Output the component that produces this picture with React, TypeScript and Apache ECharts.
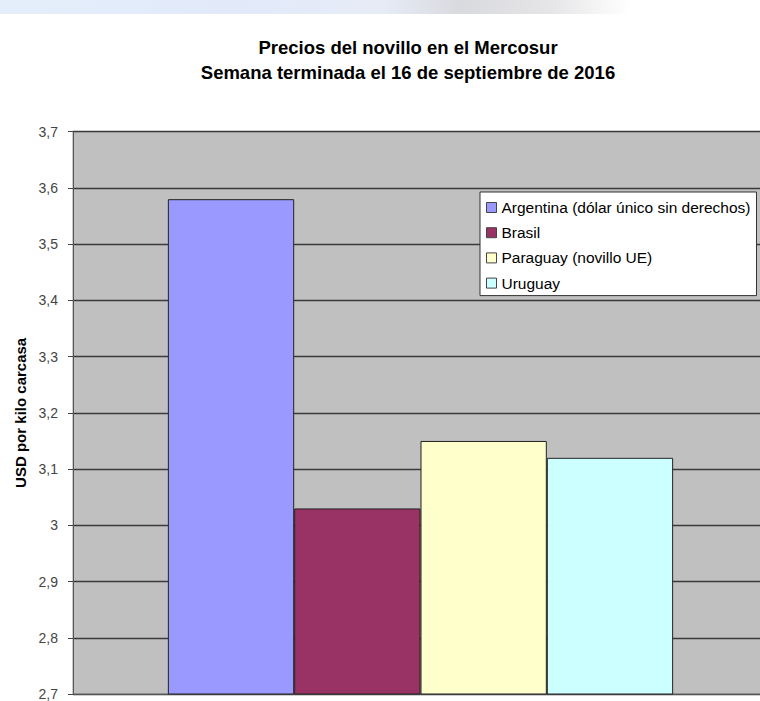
import React, { useEffect, useRef } from "react";
import * as echarts from "echarts";

const titleLines = [
  "Precios del novillo en el Mercosur",
  "Semana terminada el 16 de septiembre de 2016",
];
const yAxisName = "USD por kilo carcasa";
const categories = [""];
const seriesNames = [
  "Argentina (dólar único sin derechos)",
  "Brasil",
  "Paraguay (novillo UE)",
  "Uruguay",
];
const seriesValues = [3.58, 3.03, 3.15, 3.12];
const seriesColors = ["#9999FF", "#993366", "#FFFFCC", "#CCFFFF"];
const yMin = 2.7;
const yMax = 3.7;
const yStep = 0.1;

const FONT = "'Liberation Sans', Arial, sans-serif";

export default function App() {
  const ref = useRef<HTMLDivElement>(null);
  useEffect(() => {
    if (!ref.current) return;
    const chart = echarts.init(ref.current, null, { renderer: "svg" });
    const option: any = {
      animation: false,
      backgroundColor: "#ffffff",
      textStyle: { fontFamily: FONT },
      graphic: [
        {
          type: "rect",
          z: -10,
          shape: { x: 0, y: 0, width: 768, height: 14 },
          style: {
            fill: new echarts.graphic.LinearGradient(0, 0, 1, 0, [
              { offset: 0, color: "#e4eefa" },
              { offset: 0.3, color: "#e2eafa" },
              { offset: 0.5, color: "#e6ebf6" },
              { offset: 0.6, color: "#d9dade" },
              { offset: 0.72, color: "#e6e6e8" },
              { offset: 0.82, color: "#ffffff" },
              { offset: 1, color: "#ffffff" },
            ]),
          },
        },
        {
          type: "text",
          x: 408,
          y: 47,
          style: {
            text: titleLines[0],
            textAlign: "center",
            textVerticalAlign: "middle",
            fontFamily: FONT,
            fontWeight: "bold",
            fontSize: 18.5,
            fill: "#000",
          },
        },
        {
          type: "text",
          x: 408,
          y: 72,
          style: {
            text: titleLines[1],
            textAlign: "center",
            textVerticalAlign: "middle",
            fontFamily: FONT,
            fontWeight: "bold",
            fontSize: 18.5,
            fill: "#000",
          },
        },
      ],
      legend: {
        orient: "vertical",
        left: 480,
        top: 192,
        padding: [7, 6, 4, 6],
        backgroundColor: "#ffffff",
        borderColor: "#333333",
        borderWidth: 1,
        itemWidth: 10,
        itemHeight: 10,
        itemGap: 8.2,
        icon: "rect",
        itemStyle: { borderColor: "#444", borderWidth: 1 },
        textStyle: {
          fontFamily: FONT,
          fontSize: 15.5,
          lineHeight: 17,
          color: "#000",
        },
        data: seriesNames,
      },
      grid: {
        left: 73,
        right: 0,
        top: 131.7,
        bottom: 2.7,
        show: true,
        backgroundColor: "#c0c0c0",
        borderColor: "#999999",
        borderWidth: 1,
      },
      xAxis: {
        type: "category",
        data: categories,
        axisLabel: { show: false },
        axisTick: { show: false },
        axisLine: { show: true, lineStyle: { color: "#555" } },
      },
      yAxis: {
        type: "value",
        min: yMin,
        max: yMax,
        interval: yStep,
        name: yAxisName,
        nameLocation: "middle",
        nameRotate: 90,
        nameGap: 45,
        nameTextStyle: {
          fontFamily: FONT,
          fontWeight: "bold",
          fontSize: 15,
          color: "#000",
        },
        axisLine: { show: true, lineStyle: { color: "#555", width: 1 } },
        axisTick: { show: true, length: 5, lineStyle: { color: "#444" } },
        axisLabel: {
          margin: 15,
          fontFamily: FONT,
          fontSize: 14,
          color: "#444",
          formatter: (v: number) =>
            (Math.round(v * 10) / 10).toString().replace(".", ","),
        },
        splitLine: { show: true, lineStyle: { color: "#3a3a3a", width: 1.3 } },
      },
      series: seriesNames.map((name, i) => ({
        type: "bar",
        name,
        data: [seriesValues[i]],
        barGap: "0%",
        barCategoryGap: "27.3%",
        itemStyle: {
          color: seriesColors[i],
          borderColor: "#222",
          borderWidth: 1,
        },
      })),
    };
    chart.setOption(option);
    return () => chart.dispose();
  }, []);
  return (
    <div
      style={{
        position: "absolute",
        left: 0,
        top: 0,
        width: 760,
        height: 701,
        overflow: "hidden",
      }}
    >
      <div ref={ref} style={{ width: 768, height: 701 }} />
    </div>
  );
}
